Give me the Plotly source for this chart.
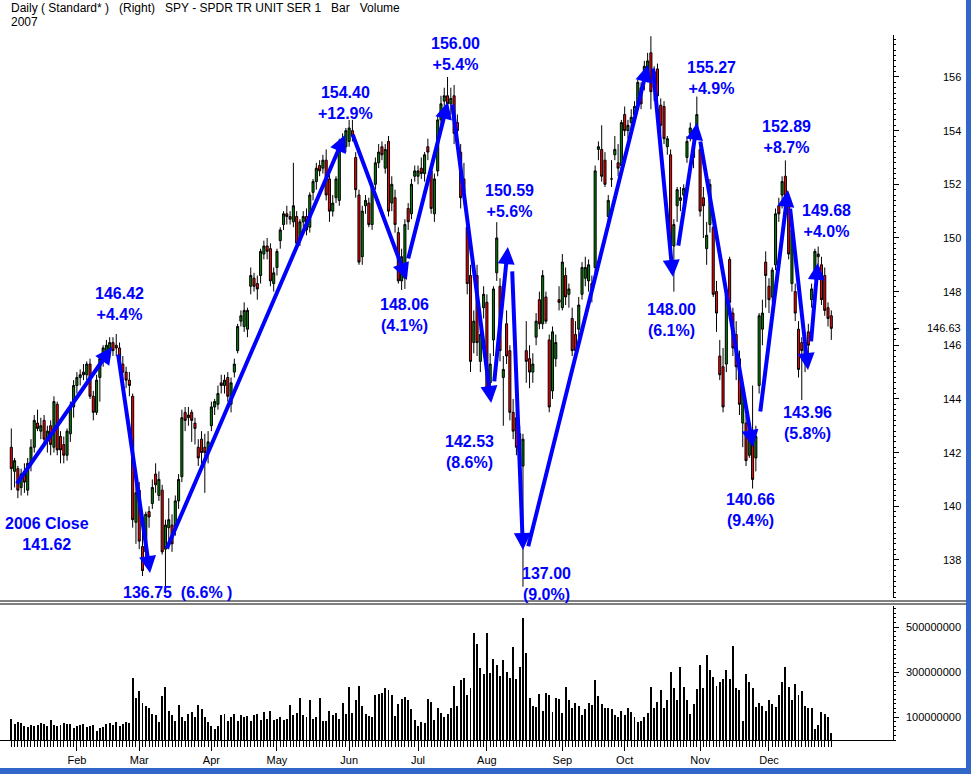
import plotly.graph_objects as go

# ---------------- DATA ----------------
month_names = ["Jan", "Feb", "Mar", "Apr", "May", "Jun", "Jul", "Aug", "Sep", "Oct", "Nov", "Dec"]

# daily (open, high, low, close) per month, SPY 2007
jan = [(142.2,142.9,140.6,141.4),(141.3,141.8,140.7,141.7),(141.4,141.5,140.3,140.6),(140.7,141.4,140.4,141.2),
       (141.3,141.6,140.5,140.9),(140.6,141.8,140.4,141.6),(141.6,142.5,141.3,142.2),(142.2,143.4,142.0,143.2),
       (143.1,143.6,142.8,142.9),(142.8,143.3,142.5,143.0),(143.2,143.4,142.3,142.5),(142.5,143.0,142.0,142.8),
       (143.0,143.2,141.9,142.3),(142.2,144.1,142.0,143.9),(143.8,143.9,141.9,142.1),(142.6,142.8,141.6,142.1),
       (142.3,142.6,141.6,141.9),(141.9,142.9,141.7,142.8),(142.7,143.9,142.4,143.7),(143.7,144.7,143.3,144.5)]
feb = [(144.5,145.0,144.2,144.8),(144.8,145.1,144.5,144.9),(145.0,145.3,144.7,144.9),(144.9,145.4,144.7,145.3),
       (145.3,145.5,144.0,144.1),(144.1,144.3,143.2,143.5),(143.5,144.9,143.4,144.7),(144.8,145.6,143.9,145.5),
       (145.5,146.0,145.2,145.9),(145.7,146.2,145.4,146.0),(145.8,146.3,145.5,146.1),(146.1,146.3,145.6,145.8),
       (146.0,146.42,145.6,145.9),(145.9,146.1,145.1,145.2),(145.3,145.6,144.7,145.0),(145.0,145.2,144.4,144.7),
       (144.7,145.0,144.1,144.5),(144.1,144.2,139.2,139.5),(139.4,141.1,138.6,140.5)]
mar = [(140.6,140.9,138.4,138.7),(138.5,139.2,137.4,137.6),(138.3,139.8,138.1,139.7),(139.8,140.0,139.2,139.6),
       (140.1,141.0,139.9,140.7),(141.2,141.6,140.5,140.8),(140.4,141.3,140.2,141.0),(140.6,140.8,138.2,138.3),
       (138.4,139.5,136.75,139.3),(139.2,140.3,138.4,139.5),(139.3,139.7,138.3,138.6),(139.2,140.4,138.9,140.2),
       (140.2,141.2,139.9,141.0),(141.1,143.6,140.9,143.3),(143.5,143.7,142.8,143.2),(143.3,143.7,143.0,143.4),
       (143.5,143.6,142.4,143.2),(143.1,143.3,142.3,142.9),(142.2,142.5,141.5,141.8),(142.5,142.8,141.3,142.0),
       (142.2,142.7,140.5,142.0),(142.0,142.8,141.6,142.4)]
apr = [(143.0,143.9,142.8,143.7),(143.7,144.0,143.4,143.9),(143.8,144.5,143.6,144.2),(144.6,144.9,144.2,144.5),
       (144.5,144.9,144.2,144.7),(144.8,145.0,143.9,144.1),(143.8,144.8,143.5,144.6),(145.0,145.5,144.8,145.3),
       (145.8,146.8,145.7,146.7),(146.9,147.3,146.7,147.1),(146.7,147.6,146.5,147.3),(146.6,147.4,146.3,147.3),
       (148.2,148.9,147.9,148.6),(148.5,148.7,148.0,148.2),(148.3,148.6,147.7,148.1),(148.6,149.6,148.3,149.5),
       (149.4,149.9,149.2,149.7),(149.7,150.0,149.2,149.5),(149.6,149.8,148.2,148.4),(148.3,148.9,148.0,148.7)]
may = [(148.9,149.6,148.6,149.5),(149.9,150.4,149.6,150.3),(150.5,151.0,150.3,150.9),(150.9,151.2,150.5,150.8),
       (150.8,151.0,150.5,150.7),(150.6,152.8,150.4,151.2),(150.8,151.0,149.6,149.8),(149.9,150.7,149.7,150.6),
       (150.6,151.0,150.4,150.8),(150.8,151.1,150.1,150.3),(150.4,151.7,150.2,151.6),(151.7,152.2,151.4,152.1),
       (152.1,152.8,151.8,152.6),(152.7,152.9,152.3,152.5),(152.6,153.1,152.4,152.9),(152.9,153.3,151.4,151.6),
       (152.2,152.4,150.6,151.0),(151.0,151.6,150.8,151.3),(151.5,152.3,151.3,152.2),(151.4,153.7,151.2,153.6),
       (153.5,153.9,153.2,153.4),(153.4,154.1,153.2,154.0)]
jun = [(153.6,154.4,153.4,154.1),(154.0,154.4,153.6,153.8),(153.0,153.2,151.5,151.8),(151.6,151.8,149.0,149.1),
       (149.3,151.2,149.0,151.0),(151.2,151.6,150.9,151.4),(151.3,151.5,150.4,150.5),(150.5,152.0,150.3,151.9),
       (152.0,153.0,151.8,152.8),(152.8,153.5,152.6,153.2),(153.4,153.6,152.9,153.1),(152.6,153.5,152.4,153.3),
       (153.6,153.8,150.8,151.0),(151.3,152.3,151.0,152.0),(151.5,151.8,150.2,150.5),(150.2,150.4,148.3,148.4),
       (148.4,149.6,148.06,149.3),(148.5,150.7,148.1,150.5),(151.1,151.3,150.3,150.6),(150.9,152.2,150.7,152.0),
       (152.3,152.7,152.1,152.5)]
jul = [(152.3,152.7,152.0,152.5),(152.6,153.0,152.2,152.4),(152.4,153.2,152.1,153.1),(153.4,153.7,152.9,153.2),
       (152.5,152.7,150.9,151.1),(150.9,152.4,150.6,152.2),(152.5,154.6,152.3,154.4),(154.4,155.3,154.2,155.0),
       (155.1,155.6,154.8,155.3),(155.3,156.0,154.5,155.0),(155.0,155.6,154.6,155.2),(155.3,155.7,153.5,153.9),
       (154.3,154.6,153.6,154.0),(153.2,153.5,151.1,151.5),(152.2,152.8,151.3,151.7),(150.4,150.8,147.9,148.3),
       (148.6,149.0,145.0,145.4),(146.1,147.3,145.7,146.9),(148.6,149.0,145.6,146.1),(145.4,146.7,145.0,146.4),
       (147.4,148.2,147.0,147.9)]
aug = [(147.6,147.9,144.2,144.4),(144.6,145.7,144.0,145.3),(146.2,148.2,145.6,148.1),(148.7,150.59,148.4,150.0),
       (148.2,148.5,145.4,145.8),(144.8,145.6,143.0,145.1),(146.8,147.3,145.3,145.6),(145.8,146.0,143.2,143.5),
       (143.5,144.0,142.5,142.8),(143.3,143.6,141.9,142.2),(142.7,143.0,141.3,141.6),(141.5,142.7,137.0,142.5),
       (145.8,146.9,144.6,145.4),(145.5,146.0,144.4,145.0),(145.0,145.7,144.6,145.3),(146.3,147.2,146.0,146.9),
       (147.7,148.0,146.6,146.8),(146.8,148.8,146.6,148.6),(147.8,148.0,146.8,146.9),(146.2,146.4,143.5,143.7),
       (144.3,146.7,144.0,146.5),(145.5,146.4,145.2,146.1),(147.7,148.2,147.3,147.6)]
sep = [(147.4,149.4,147.3,149.1),(148.6,148.9,147.5,147.8),(147.9,148.3,147.4,148.1),(147.0,147.4,145.6,145.8),
       (146.4,146.9,145.5,145.8),(146.6,147.8,146.3,147.5),(147.9,149.1,147.7,148.9),(148.5,149.3,148.2,148.9),
       (148.4,149.2,148.0,149.0),(148.3,148.6,147.6,148.1),(148.9,152.7,148.6,152.5),(153.3,153.6,152.9,153.4),
       (153.3,154.2,152.1,152.3),(152.9,153.2,151.9,152.0),(150.8,151.6,150.6,151.4),(152.2,152.9,151.9,152.2),
       (153.1,153.8,152.9,153.3),(152.8,153.5,152.3,152.6),(152.7,154.4,152.5,154.3)]
oct_ = [(154.6,154.9,153.8,154.0),(154.0,154.4,153.7,154.2),(154.3,154.8,153.9,154.5),(154.6,155.1,154.3,154.9),
        (155.0,155.9,154.8,155.8),(155.6,155.8,154.8,155.0),(156.0,156.6,155.5,156.4),(156.0,156.9,155.8,156.6),
        (156.9,157.52,154.8,155.45),(155.6,156.4,155.1,156.2),(156.3,156.5,154.9,155.3),(154.95,155.2,153.9,154.2),
        (154.9,155.1,153.5,153.7),(153.4,153.8,153.1,153.7),(153.1,153.3,149.6,149.7),(149.7,150.7,148.0,150.5),
        (151.2,151.9,150.6,151.8),(151.4,151.9,151.0,151.5),(151.6,152.0,151.3,151.85),(153.0,153.8,152.8,153.6),
        (153.9,154.3,153.6,154.1),(153.4,153.8,152.6,153.0),(154.1,155.27,153.8,154.6)]
nov = [(153.3,153.5,150.8,151.0),(151.5,151.9,150.0,151.2),(149.6,150.6,149.0,150.1),(150.5,152.2,150.2,152.0),
       (150.4,150.6,147.8,147.9),(148.0,148.4,146.5,147.2),(145.6,146.2,144.7,144.9),(145.2,145.9,143.5,143.7),
       (145.3,148.2,145.0,147.9),(149.2,149.3,147.2,147.6),(147.2,147.4,145.6,145.9),(146.4,146.9,144.7,145.2),
       (145.5,145.8,143.4,143.8),(143.1,144.6,142.2,144.3),(143.1,143.4,141.5,141.7),(141.9,142.9,141.8,142.7),
       (142.8,144.5,140.66,141.0),(141.8,143.0,141.3,142.6),(144.5,147.2,144.2,147.1),(146.6,147.7,146.0,147.2),
       (149.1,149.5,147.4,148.6)]
dec = [(148.2,148.5,147.2,147.7),(147.8,148.9,147.6,148.8),(149.0,151.1,148.8,150.9),(151.2,151.5,150.6,150.9),
       (151.6,152.3,151.1,152.1),(152.3,152.89,150.9,151.2),(151.2,151.5,149.2,149.4),(148.3,150.5,148.0,150.3),
       (148.0,148.3,146.9,147.2),(146.6,146.9,144.8,145.1),(146.1,146.3,143.96,145.8),(145.4,146.2,145.0,146.0),
       (146.5,146.8,145.6,146.0),(147.7,148.3,147.4,148.1),(148.8,149.6,148.6,149.5),(149.3,149.68,149.0,149.4),
       (149.0,149.3,147.5,147.7),(148.6,148.9,147.1,147.3),(147.4,147.6,146.7,147.0),(147.1,147.3,146.2,146.63)]

# daily volume (millions of shares) per month
vol_jan = [95, 72, 78, 75, 60, 58, 68, 60, 65, 75, 72, 62, 88, 65, 60, 65, 75, 70, 72, 55]
vol_feb = [60, 65, 70, 58, 62, 68, 42, 52, 58, 70, 75, 68, 80, 62, 72, 78, 75, 275, 185]
vol_mar = [215, 165, 150, 140, 115, 110, 80, 195, 235, 130, 110, 85, 155, 100, 85, 115, 125, 100, 155, 135, 100, 80]
vol_apr = [60, 50, 60, 110, 115, 85, 100, 115, 85, 110, 100, 105, 85, 110, 115, 90, 125, 95, 130, 88]
vol_may = [92, 100, 88, 95, 155, 110, 118, 185, 110, 100, 175, 95, 100, 185, 82, 85, 130, 110, 120, 95, 165, 115]
vol_jun = [235, 120, 175, 240, 150, 115, 105, 100, 200, 205, 210, 230, 220, 200, 105, 160, 180, 190, 175, 135, 90]
vol_jul = [60, 80, 75, 180, 170, 90, 140, 120, 100, 115, 140, 240, 150, 265, 275, 200, 230, 475, 425, 320, 290]
vol_aug = [475, 295, 360, 330, 285, 355, 300, 275, 410, 270, 325, 540, 385, 185, 150, 145, 205, 130, 210, 200, 125, 185, 180]
vol_sep = [120, 235, 175, 140, 165, 150, 110, 135, 165, 155, 265, 195, 160, 140, 140, 135, 110, 100, 130]
vol_oct = [110, 140, 125, 100, 80, 85, 100, 120, 235, 140, 170, 220, 140, 175, 300, 230, 175, 325, 235, 175, 115, 160, 225]
vol_nov = [330, 230, 375, 310, 280, 240, 255, 270, 310, 270, 415, 230, 220, 85, 290, 255, 230, 145, 165, 150, 130]
vol_dec = [175, 160, 145, 200, 255, 325, 235, 175, 250, 200, 215, 150, 140, 140, 50, 65, 125, 115, 100, 30]

price_ticks = [138, 140, 142, 144, 146, 148, 150, 152, 154, 156]
last_close_label = 146.63
volume_ticks = [100000000, 300000000, 500000000]

# swing arrows: (from trading-day index, from price) -> (to index, to price)
arrow_from_day = [1.4, 32.5, 47.2, 103.9, 120.9, 134.4, 147.2, 152.7, 157.5, 195.6, 203.3, 210.0, 228.3, 237.4, 243.8]
arrow_from_px = [140.79, 145.71, 138.37, 153.91, 149.18, 155.03, 144.60, 148.81, 138.45, 156.37, 149.66, 153.65, 143.48, 151.15, 146.09]
arrow_to_day = [30.7, 42.3, 101.7, 120.6, 133.1, 146.3, 151.4, 156.0, 194.1, 201.7, 209.1, 226.1, 236.8, 242.9, 245.9]
arrow_to_px = [145.94, 137.51, 153.84, 148.43, 155.07, 143.85, 149.66, 138.37, 156.45, 148.55, 154.29, 142.21, 151.79, 145.08, 149.07]

# swing labels
label_text = ["146.42<br>+4.4%", "2006 Close<br>141.62", "136.75\u00a0\u00a0(6.6%\u00a0)", "154.40<br>+12.9%",
              "148.06<br>(4.1%)", "156.00<br>+5.4%", "150.59<br>+5.6%", "142.53<br>(8.6%)", "137.00<br>(9.0%)",
              "157.72<br>+15.2%", "155.27<br>+4.9%", "148.00<br>(6.1%)", "152.89<br>+8.7%", "149.68<br>+4.0%",
              "143.96<br>(5.8%)", "140.66<br>(9.4%)"]
label_day = [33.1, 10.9, 50.8, 102.0, 120.0, 135.3, 152.0, 139.8, 163.3, 193.2, 213.6, 201.4, 236.2, 248.4, 242.6, 225.5]
label_px = [147.54, 138.97, 136.77, 155.03, 147.13, 156.86, 151.38, 142.02, 137.10, 158.09, 155.96, 146.94, 153.76, 150.63, 143.10, 139.86]

# ---------------- BUILD ----------------
months_ohlc = [jan, feb, mar, apr, may, jun, jul, aug, sep, oct_, nov, dec]
months_vol = [vol_jan, vol_feb, vol_mar, vol_apr, vol_may, vol_jun, vol_jul, vol_aug, vol_sep, vol_oct, vol_nov, vol_dec]
ohlc = [row for m in months_ohlc for row in m]
vol = [v * 1e6 for m in months_vol for v in m]
days = list(range(len(ohlc)))
month_start = []
k = 0
for m in months_ohlc:
    month_start.append(k)
    k += len(m)

W, H = 971, 774
ML, MR, MT, MB = 0, 78, 35, 34
PW, PH = W - ML - MR, H - MT - MB
px_per_day = 3.28
x0 = -11.3 / px_per_day
x1 = x0 + PW / px_per_day

def py(p):  # pixel y -> paper y
    return (H - MB - p) / PH

def pxp(p):  # pixel x -> paper x
    return (p - ML) / PW

FONT = "Liberation Sans, Arial, sans-serif"
BLUE = "#0000FF"

fig = go.Figure()
fig.add_trace(go.Candlestick(
    x=days, open=[r[0] for r in ohlc], high=[r[1] for r in ohlc],
    low=[r[2] for r in ohlc], close=[r[3] for r in ohlc],
    increasing=dict(fillcolor="#008000", line=dict(color="black", width=1)),
    decreasing=dict(fillcolor="#FF0000", line=dict(color="black", width=1)),
    whiskerwidth=0, xaxis="x", yaxis="y", showlegend=False, hoverinfo="skip"))
fig.add_trace(go.Bar(
    x=days, y=vol, width=0.3, marker=dict(color="black", line=dict(width=0)),
    xaxis="x2", yaxis="y2", showlegend=False, hoverinfo="skip"))

ann = []
for fx, fy, tx, ty in zip(arrow_from_day, arrow_from_px, arrow_to_day, arrow_to_px):
    ann.append(dict(x=tx, y=ty, ax=fx, ay=fy, xref="x", yref="y", axref="x", ayref="y",
                    text="", showarrow=True, arrowhead=2, arrowsize=0.85, arrowwidth=4,
                    arrowcolor=BLUE, standoff=0, startstandoff=0))
for t, lx, ly in zip(label_text, label_day, label_px):
    ann.append(dict(x=lx, y=ly, xref="x", yref="y", text=t, showarrow=False, align="center",
                    xanchor="center", yanchor="middle",
                    font=dict(family=FONT, size=16, color=BLUE, weight="bold")))
for v in price_ticks + [last_close_label]:
    ann.append(dict(x=pxp(963), y=v, xref="paper", yref="y", text=(f"{v:.2f}" if v == last_close_label else str(v)),
                    showarrow=False, xanchor="right", yanchor="middle",
                    font=dict(family=FONT, size=11, color="black")))
for v in volume_ticks:
    ann.append(dict(x=pxp(963), y=v, xref="paper", yref="y2", text=str(v), showarrow=False,
                    xanchor="right", yanchor="middle", font=dict(family=FONT, size=11, color="black")))
sp = "\u00a0\u00a0\u00a0"
ann.append(dict(x=pxp(9), y=py(8), xref="paper", yref="paper", xanchor="left", yanchor="middle",
                text=f"Daily ( Standard* ){sp}(Right){sp}SPY - SPDR TR UNIT SER 1{sp}Bar{sp}Volume",
                showarrow=False, font=dict(family=FONT, size=12, color="black")))
ann.append(dict(x=pxp(9), y=py(22), xref="paper", yref="paper", xanchor="left", yanchor="middle",
                text="2007", showarrow=False, font=dict(family=FONT, size=12, color="black")))

shapes = [
    dict(type="line", xref="paper", yref="paper", x0=0, x1=pxp(966), y0=py(601), y1=py(601),
         line=dict(color="black", width=1)),
    dict(type="line", xref="paper", yref="paper", x0=0, x1=pxp(966), y0=py(604), y1=py(604),
         line=dict(color="black", width=1)),
    dict(type="rect", xref="paper", yref="paper", x0=pxp(966), x1=pxp(972), y0=py(775), y1=py(-1),
         fillcolor="#3167C9", line=dict(width=0)),
    dict(type="rect", xref="paper", yref="paper", x0=pxp(-1), x1=pxp(972), y0=py(775), y1=py(768),
         fillcolor="#3167C9", line=dict(width=0)),
]

fig.update_layout(
    width=W, height=H, margin=dict(l=ML, r=MR, t=MT, b=MB),
    paper_bgcolor="white", plot_bgcolor="white", boxgap=0.1, bargap=0,
    annotations=ann, shapes=shapes, showlegend=False,
    xaxis=dict(domain=[0, 1], range=[x0, x1], anchor="y", showticklabels=False, ticks="",
               showgrid=False, zeroline=False, showline=False, rangeslider=dict(visible=False)),
    yaxis=dict(domain=[py(598), 1], range=[136.58, 157.565], side="right", anchor="x",
               showgrid=False, zeroline=False, showline=True, linecolor="black", linewidth=1,
               ticks="outside", ticklen=5, tickcolor="black", tickvals=price_ticks + [last_close_label],
               showticklabels=False,
               minor=dict(ticks="outside", ticklen=2, tickcolor="black", dtick=0.2, showgrid=False)),
    xaxis2=dict(domain=[0, 1], range=[x0, x1], anchor="y2", showgrid=False, zeroline=False,
                showline=True, linecolor="black", linewidth=1,
                tickmode="array", tickvals=month_start[1:], ticktext=month_names[1:],
                ticks="outside", ticklen=10, tickcolor="black",
                tickfont=dict(family=FONT, size=11, color="black"),
                minor=dict(ticks="outside", ticklen=6, tickcolor="black", tickmode="array",
                           tickvals=days, showgrid=False)),
    yaxis2=dict(domain=[0, py(606)], range=[0, 593e6], side="right", anchor="x2",
                showgrid=False, zeroline=False, showline=True, linecolor="black", linewidth=1,
                ticks="outside", ticklen=5, tickcolor="black", tickvals=volume_ticks,
                showticklabels=False,
                minor=dict(ticks="outside", ticklen=2, tickcolor="black", dtick=20e6, showgrid=False)),
)

fig.write_html("out.html", config={"displayModeBar": False},
               post_script="document.body.style.margin='0';document.body.style.overflow='hidden';")
